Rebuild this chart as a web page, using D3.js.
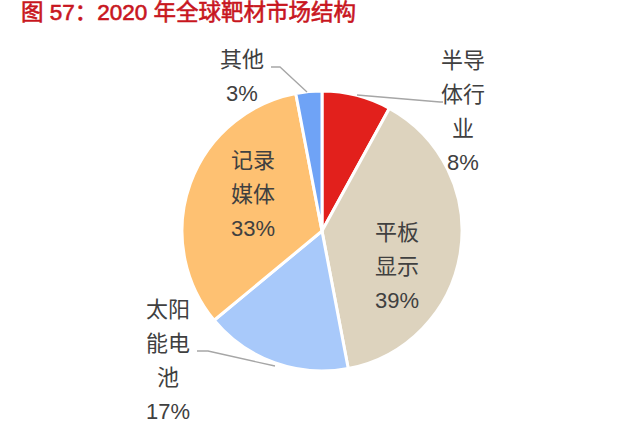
<!DOCTYPE html>
<html lang="zh">

<head>
    <meta charset="utf-8">
    <script src='https://d3js.org/d3.v7.min.js'></script>
    <style>
        body { margin: 0; background: #fff; }
        text { font-family: "Liberation Sans", "Noto Sans CJK SC", sans-serif; }
    </style>
</head>

<body>

    <script>
        // 2020 年全球靶材市场结构
        const categories = ["半导体行业", "平板显示", "太阳能电池", "记录媒体", "其他"];
        const shares = [8, 39, 17, 33, 3];
        const labelLines = [
            ["半导", "体行", "业"],
            ["平板", "显示"],
            ["太阳", "能电", "池"],
            ["记录", "媒体"],
            ["其他"]
        ];
        const colors = ["#E2201C", "#DDD3BE", "#A8C9FA", "#FEC172", "#6FA3F6"];

        const width = 640, height = 429;
        const cx = 322, cy = 231, r = 140;

        // label block placement relative to pie centre (first line centre)
        const labelPos = [
            { dx: 141, dy: -171 },
            { dx: 75, dy: 1 },
            { dx: -154, dy: 78 },
            { dx: -69, dy: -71 },
            { dx: -80, dy: -172 }
        ];
        // leader lines, relative to centre
        const leaders = [
            [[35, -136], [118, -129], [121, -129]],
            null,
            [[-47, 135], [-114, 120], [-125, 120]],
            null,
            [[-15, -139], [-42, -164], [-51, -164]]
        ];
        const lineGap = 34;

        const svg = d3.select("body").append("svg")
            .attr("width", width)
            .attr("height", height);

        svg.append("text")
            .attr("x", 21)
            .attr("y", 20)
            .attr("fill", "#C8161E")
            .attr("stroke", "#C8161E")
            .attr("stroke-width", 0.6)
            .attr("font-size", 22.5)
            .text("图 57：2020 年全球靶材市场结构");

        const pie = d3.pie().sort(null).value(d => d);
        const arc = d3.arc().innerRadius(0).outerRadius(r);
        const arcs = pie(shares);

        const g = svg.append("g").attr("transform", `translate(${cx},${cy})`);

        g.selectAll("path")
            .data(arcs)
            .enter()
            .append("path")
            .attr("d", arc)
            .attr("fill", (d, i) => colors[i])
            .attr("stroke", "#fff")
            .attr("stroke-width", 3)
            .attr("stroke-linejoin", "round");

        const line = d3.line();
        g.selectAll("path.leader")
            .data(leaders.filter(d => d))
            .enter()
            .append("path")
            .attr("class", "leader")
            .attr("d", line)
            .attr("fill", "none")
            .attr("stroke", "#A6A6A6")
            .attr("stroke-width", 1.3);

        arcs.forEach(function(d, i) {
            const lines = labelLines[i].concat([shares[i] + "%"]);
            const t = g.append("text")
                .attr("text-anchor", "middle")
                .attr("font-size", 22)
                .attr("fill", "#404040");
            lines.forEach(function(s, j) {
                t.append("tspan")
                    .attr("x", labelPos[i].dx)
                    .attr("y", labelPos[i].dy + j * lineGap)
                    .attr("dominant-baseline", "central")
                    .text(s);
            });
        });
    </script>

</body>

</html>
